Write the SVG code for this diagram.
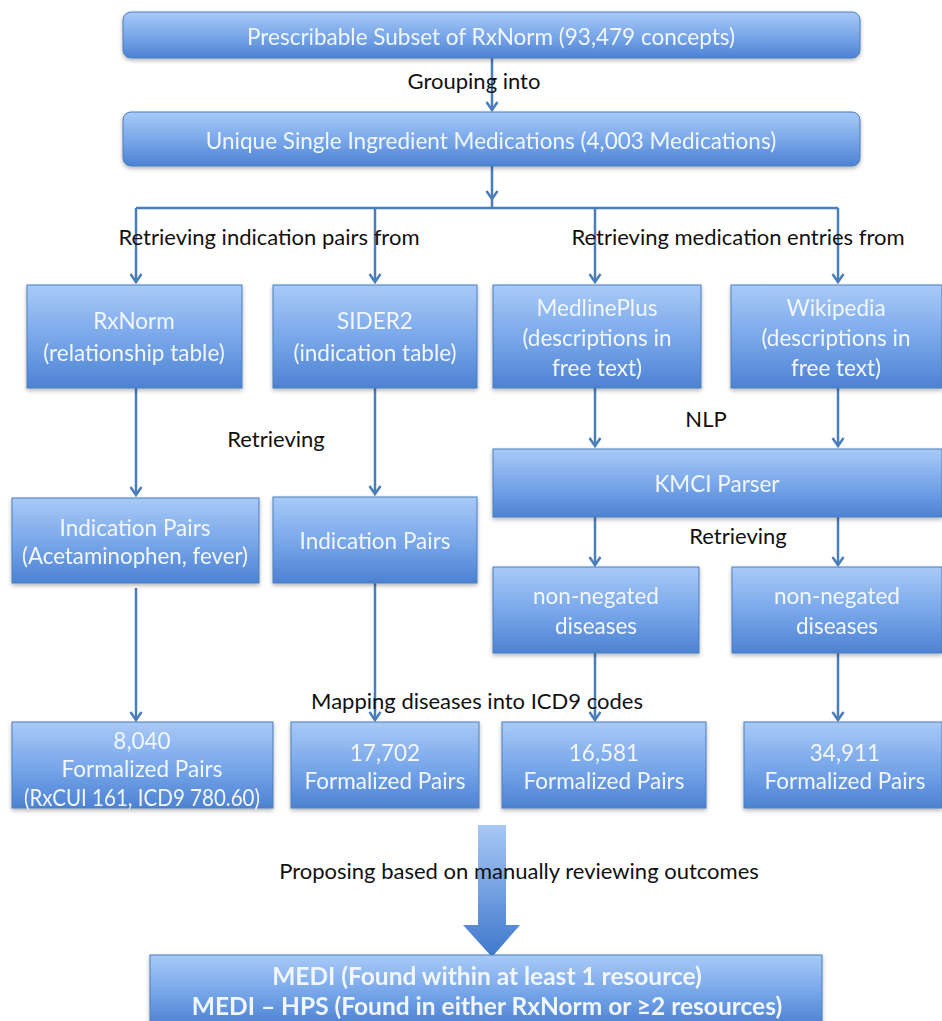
<svg xmlns="http://www.w3.org/2000/svg" width="942" height="1021" viewBox="0 0 942 1021">
<style>
.box{fill:url(#g);stroke:#4a7ebb;stroke-width:1}
.bt{font-family:Lato,"Liberation Sans",sans-serif;font-size:22.5px;fill:#f2f7ff;text-anchor:middle;dominant-baseline:central}
.bb{font-family:Lato,"Liberation Sans",sans-serif;font-size:24.5px;font-weight:bold;fill:#f2f7ff;text-anchor:middle;dominant-baseline:central}
.lb{font-family:Lato,"Liberation Sans",sans-serif;font-size:22px;fill:#111;text-anchor:middle;dominant-baseline:central}
.cn{fill:none;stroke:#4a7ebb;stroke-width:2.5}
</style>
<defs>
<linearGradient id="g" x1="0" y1="0" x2="0" y2="1">
<stop offset="0" stop-color="#a9caf7"/>
<stop offset="0.5" stop-color="#7aa8ea"/>
<stop offset="1" stop-color="#4d82d3"/>
</linearGradient>
<linearGradient id="ga" x1="0" y1="0" x2="0" y2="1">
<stop offset="0" stop-color="#a7c8f5"/>
<stop offset="1" stop-color="#3f78cc"/>
</linearGradient>
<filter id="sh" x="-5%" y="-5%" width="110%" height="120%">
<feDropShadow dx="0" dy="2" stdDeviation="2" flood-color="#000" flood-opacity="0.3"/>
</filter>
<marker id="ah" viewBox="0 0 14 14" refX="12" refY="7" markerWidth="14" markerHeight="14" markerUnits="userSpaceOnUse" orient="auto">
<path d="M4,1.5 L12,7 L4,12.5" fill="none" stroke="#4a7ebb" stroke-width="2.5"/>
</marker>
</defs>
<rect width="942" height="1021" fill="#fff"/>

<g id="connectors">
<line class="cn" x1="492" y1="58" x2="492" y2="110" marker-end="url(#ah)"/>
<line class="cn" x1="492" y1="166" x2="492" y2="199" marker-end="url(#ah)"/>
<line class="cn" x1="136" y1="208" x2="838" y2="208"/>
<line class="cn" x1="492" y1="199" x2="492" y2="208"/>
<line class="cn" x1="136" y1="208" x2="136" y2="282" marker-end="url(#ah)"/>
<line class="cn" x1="375" y1="208" x2="375" y2="282" marker-end="url(#ah)"/>
<line class="cn" x1="595" y1="208" x2="595" y2="282" marker-end="url(#ah)"/>
<line class="cn" x1="838" y1="208" x2="838" y2="282" marker-end="url(#ah)"/>
<line class="cn" x1="136" y1="388" x2="136" y2="495" marker-end="url(#ah)"/>
<line class="cn" x1="375" y1="388" x2="375" y2="494" marker-end="url(#ah)"/>
<line class="cn" x1="595" y1="388" x2="595" y2="446" marker-end="url(#ah)"/>
<line class="cn" x1="838" y1="388" x2="838" y2="446" marker-end="url(#ah)"/>
<line class="cn" x1="595" y1="517" x2="595" y2="565" marker-end="url(#ah)"/>
<line class="cn" x1="838" y1="517" x2="838" y2="565" marker-end="url(#ah)"/>
<line class="cn" x1="136" y1="588" x2="136" y2="720" marker-end="url(#ah)"/>
<line class="cn" x1="375" y1="583" x2="375" y2="720" marker-end="url(#ah)"/>
<line class="cn" x1="595" y1="653" x2="595" y2="720" marker-end="url(#ah)"/>
<line class="cn" x1="838" y1="653" x2="838" y2="720" marker-end="url(#ah)"/>
<path d="M478,825 H506 V925 H520 L492,957 L463,925 H478 Z" fill="url(#ga)"/>
</g>

<g id="labels">
<text class="lb" x="474" y="80">Grouping into</text>
<text class="lb" x="269" y="236">Retrieving indication pairs from</text>
<text class="lb" x="738" y="236">Retrieving medication entries from</text>
<text class="lb" x="276" y="438">Retrieving</text>
<text class="lb" x="706" y="418">NLP</text>
<text class="lb" x="738" y="535">Retrieving</text>
<text class="lb" x="477" y="700">Mapping diseases into ICD9 codes</text>
<text class="lb" x="519" y="870">Proposing based on manually reviewing outcomes</text>
</g>

<g id="n-top" filter="url(#sh)">
<rect class="box" x="123" y="12" width="737" height="46" rx="8"/>
<text class="bt" x="491" y="36">Prescribable Subset of RxNorm (93,479 concepts)</text>
</g>
<g id="n-unique" filter="url(#sh)">
<rect class="box" x="123" y="112" width="737" height="54" rx="8"/>
<text class="bt" x="491" y="140">Unique Single Ingredient Medications (4,003 Medications)</text>
</g>
<g id="n-rxnorm" filter="url(#sh)">
<rect class="box" x="27" y="285" width="215" height="103"/>
<text class="bt" x="134" y="320">RxNorm</text>
<text class="bt" x="134" y="352">(relationship table)</text>
</g>
<g id="n-sider2" filter="url(#sh)">
<rect class="box" x="273" y="285" width="204" height="103"/>
<text class="bt" x="375" y="320">SIDER2</text>
<text class="bt" x="375" y="352">(indication table)</text>
</g>
<g id="n-medlineplus" filter="url(#sh)">
<rect class="box" x="493" y="285" width="208" height="103"/>
<text class="bt" x="597" y="307">MedlinePlus</text>
<text class="bt" x="597" y="337">(descriptions in</text>
<text class="bt" x="597" y="367">free text)</text>
</g>
<g id="n-wikipedia" filter="url(#sh)">
<rect class="box" x="731" y="285" width="211" height="103"/>
<text class="bt" x="836" y="307">Wikipedia</text>
<text class="bt" x="836" y="337">(descriptions in</text>
<text class="bt" x="836" y="367">free text)</text>
</g>
<g id="n-ip1" filter="url(#sh)">
<rect class="box" x="12" y="498" width="247" height="85"/>
<text class="bt" x="135" y="527">Indication Pairs</text>
<text class="bt" x="135" y="555" textLength="226" lengthAdjust="spacingAndGlyphs">(Acetaminophen, fever)</text>
</g>
<g id="n-ip2" filter="url(#sh)">
<rect class="box" x="273" y="497" width="204" height="86"/>
<text class="bt" x="375" y="540">Indication Pairs</text>
</g>
<g id="n-kmci" filter="url(#sh)">
<rect class="box" x="493" y="449" width="449" height="68"/>
<text class="bt" x="717" y="483">KMCI Parser</text>
</g>
<g id="n-nn1" filter="url(#sh)">
<rect class="box" x="493" y="567" width="206" height="86"/>
<text class="bt" x="596" y="595">non-negated</text>
<text class="bt" x="596" y="625">diseases</text>
</g>
<g id="n-nn2" filter="url(#sh)">
<rect class="box" x="732" y="567" width="210" height="86"/>
<text class="bt" x="837" y="595">non-negated</text>
<text class="bt" x="837" y="625">diseases</text>
</g>
<g id="n-f1" filter="url(#sh)">
<rect class="box" x="12" y="722" width="261" height="86"/>
<text class="bt" x="142" y="740">8,040</text>
<text class="bt" x="142" y="768">Formalized Pairs</text>
<text class="bt" x="142" y="797" textLength="236" lengthAdjust="spacingAndGlyphs">(RxCUI 161, ICD9 780.60)</text>
</g>
<g id="n-f2" filter="url(#sh)">
<rect class="box" x="291" y="722" width="188" height="86"/>
<text class="bt" x="385" y="752">17,702</text>
<text class="bt" x="385" y="780">Formalized Pairs</text>
</g>
<g id="n-f3" filter="url(#sh)">
<rect class="box" x="502" y="722" width="204" height="86"/>
<text class="bt" x="604" y="752">16,581</text>
<text class="bt" x="604" y="780">Formalized Pairs</text>
</g>
<g id="n-f4" filter="url(#sh)">
<rect class="box" x="744" y="722" width="198" height="86"/>
<text class="bt" x="845" y="752">34,911</text>
<text class="bt" x="845" y="780">Formalized Pairs</text>
</g>
<g id="n-medi" filter="url(#sh)">
<rect class="box" x="150" y="955" width="672" height="70"/>
<text class="bb" x="487" y="975">MEDI (Found within at least 1 resource)</text>
<text class="bb" x="487" y="1005">MEDI – HPS (Found in either RxNorm or ≥2 resources)</text>
</g>
</svg>
